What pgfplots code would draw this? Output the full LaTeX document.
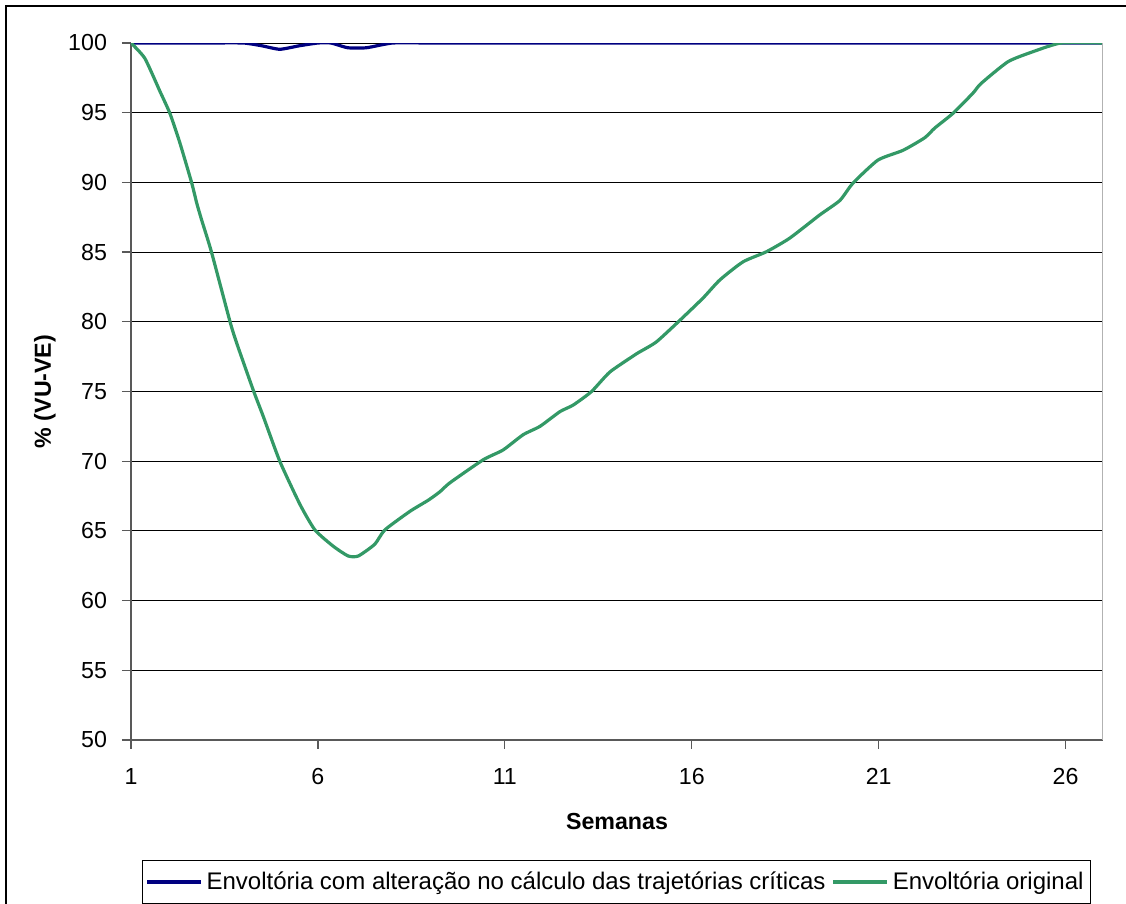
\documentclass[border=0pt]{standalone}
\usepackage{pgfplots}
\pgfplotsset{compat=1.18}
\usepackage{fontspec}
\setmainfont{Liberation Sans}
\definecolor{navyline}{HTML}{000080}
\definecolor{seagreen}{HTML}{339966}
\begin{document}
\begin{tikzpicture}
\useasboundingbox (-65.5pt,-82pt) rectangle (497.5pt,370pt);
\draw[black, line width=0.7pt] (-62.5pt,-90pt) -- (-62.5pt,367pt) -- (510pt,367pt);
\begin{axis}[
  at={(0pt,0pt)}, anchor=origin,
  scale only axis,
  width=486pt, height=348.5pt,
  xmin=1, xmax=27, ymin=50, ymax=100,
  xtick={1,6,11,16,21,26},
  ytick={50,55,...,100},
  axis lines=left,
  axis line style={-, draw=gray!70!black, line width=0.8pt},
  tick align=outside,
  major tick length=4.5pt,
  tick style={gray!70!black, line width=0.6pt},
  ymajorgrids,
  grid style={black, line width=0.5pt},
  /pgf/number format/assume math mode=true,
  ticklabel style={font=\fontsize{11.6}{14}\selectfont},
  yticklabel style={xshift=-4pt},
  xticklabel style={yshift=-6pt},
  xlabel={\textbf{Semanas}},
  ylabel={\textbf{\% (VU-VE)}},
  label style={font=\fontsize{11.6}{14}\selectfont},
  xlabel style={at={(axis description cs:0.5,-0.1176)}, anchor=center},
  ylabel style={at={(axis description cs:-0.0885,0.5)}, anchor=center},
  legend columns=2,
  legend style={at={(0.4995,-0.2037)}, anchor=center, draw=black, line width=0.5pt,
    font=\fontsize{12}{14}\selectfont, inner xsep=1.5pt, inner ysep=3.5pt,
    /tikz/every even column/.append style={column sep=1pt}},
  legend image code/.code={\draw[#1, line width=1.6pt] (0pt,0pt) -- (27pt,0pt);},
]
\addplot[navyline, line width=1.6pt, line join=round, smooth, tension=0.35] coordinates {
(1,100) (2,100) (3,100) (4,100) (4.5,99.8) (4.98,99.55) (5.5,99.8) (6,100) (6.35,100)
(6.8,99.66) (7.3,99.66) (8,100) (9,100) (10,100) (12,100) (14,100) (16,100) (18,100)
(20,100) (22,100) (24,100) (26,100) (27,100)
};
\addlegendentry{Envoltória com alteração no cálculo das trajetórias críticas}
\addplot[seagreen, line width=1.6pt, line join=round, smooth, tension=0.35] coordinates {
(1,100) (1.37,98.9) (1.78,96.5) (2.04,94.96) (2.3,92.9) (2.62,90.0) (2.76,88.5) (2.89,87.3)
(3.15,85.03) (3.65,80.0) (3.83,78.45) (4.27,75.1) (4.54,73.2) (4.98,70.0) (5.52,66.9)
(5.92,65.07) (6.41,63.9) (6.81,63.2) (7.08,63.2) (7.52,64.04) (7.79,65.07) (8.46,66.4)
(8.95,67.2) (9.26,67.8) (9.53,68.45) (10.42,70.1) (10.95,70.8) (11.49,71.9) (11.94,72.5)
(12.47,73.55) (12.83,74.03) (13.32,75.0) (13.81,76.4) (14.52,77.7) (14.7,77.98)
(15.06,78.57) (15.64,80.0) (16.3,81.7) (16.75,83.0) (17.37,84.3) (18.0,85.03)
(18.62,86.0) (19.42,87.66) (19.96,88.7) (20.31,89.94) (20.98,91.6) (21.65,92.3)
(22.23,93.2) (22.5,93.9) (22.99,94.96) (23.52,96.4) (23.74,97.1) (24.46,98.66)
(25.13,99.38) (25.88,100) (27,100)
};
\addlegendentry{Envoltória original}
\draw[gray!60, line width=0.9pt] (rel axis cs:1,0) -- (rel axis cs:1,1);
\end{axis}
\end{tikzpicture}
\end{document}
